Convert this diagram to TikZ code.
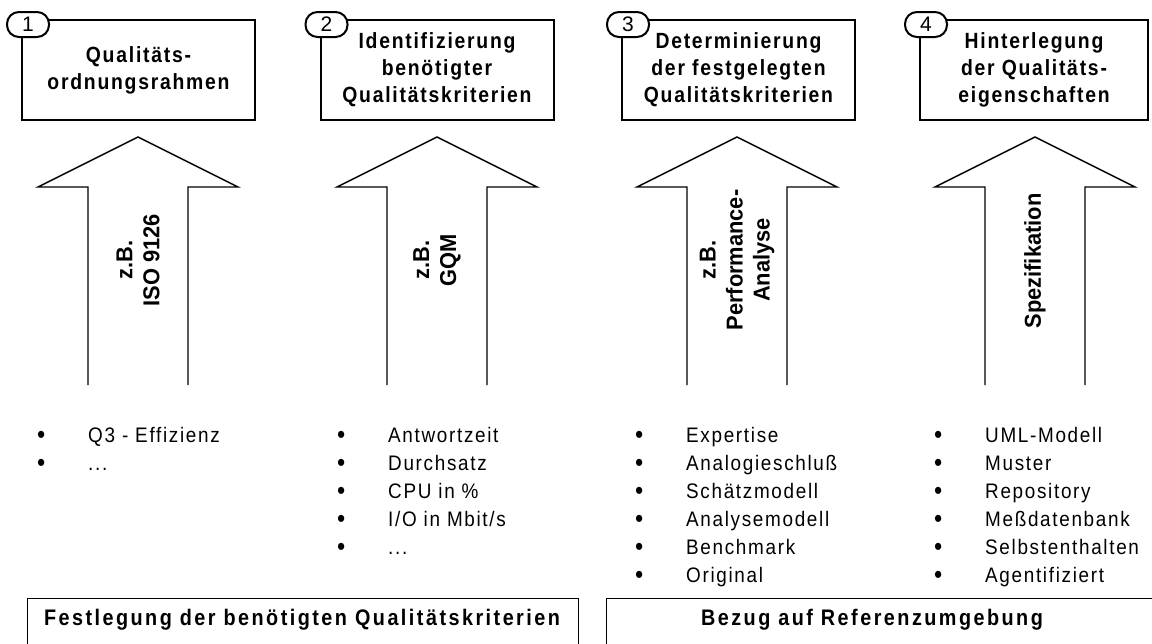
\documentclass[tikz,border=0pt]{standalone}
\usepackage{fontspec}
\setmainfont{Liberation Sans}
\newfontfamily\spacedfont[LetterSpace=8,FakeStretch=0.88]{Liberation Sans}
\newfontfamily\widefont[LetterSpace=11,FakeStretch=0.88]{Liberation Sans}
\newfontfamily\listfont[LetterSpace=8,FakeStretch=0.9]{Liberation Sans}
\newfontfamily\arrowfont[FakeStretch=0.95]{Liberation Sans}
\usetikzlibrary{calc}
\newcommand{\etcdots}{...}
\newcommand{\bul}{\makebox[0pt][r]{\raisebox{-1pt}{\fontsize{26}{26}\selectfont\textbullet}\hspace{43pt}}}

\begin{document}
\begin{tikzpicture}[x=1pt,y=-1pt,
  titlebox/.style={draw, line width=2pt, minimum width=233pt, minimum height=100pt,
    align=center, inner sep=0pt, font=\spacedfont\bfseries\fontsize{22}{27}\selectfont},
  numtag/.style={draw, line width=2pt, fill=white, rounded corners=12pt,
    minimum width=42pt, minimum height=25pt, inner sep=0pt, font=\fontsize{21}{21}\selectfont},
  arrowtext/.style={rotate=90, align=center, inner sep=0pt,
    font=\arrowfont\bfseries\fontsize{23}{27}\selectfont},
  item/.style={anchor=west, inner sep=0pt, text height=15.2pt, text depth=0pt,
    font=\listfont\fontsize{21}{28}\selectfont},
  basebox/.style={draw, line width=1pt},
  basetext/.style={inner sep=0pt, font=\widefont\bfseries\fontsize{22.5}{22}\selectfont},
  bigarrow/.style={draw, line width=1.4pt, line join=miter}
]
\useasboundingbox (0,0) rectangle (1152,643);

% step boxes along the top
\node[titlebox] (t1) at (138.5,70) {Qualitäts-\\ordnungsrahmen};
\node[titlebox] (t2) at (437,70) {Identifizierung\\benötigter\\Qualitätskriterien};
\node[titlebox] (t3) at (738.5,70) {Determinierung\\der festgelegten\\Qualitätskriterien};
\node[titlebox, minimum width=228pt] (t4) at (1034,70) {Hinterlegung\\der Qualitäts-\\eigenschaften};

% numbered tags on the upper left corners
\foreach \k in {1,2,3,4}
  \node[numtag] (n\k) at ($(t\k.north west)+(7,5.5)$) {\k};

% upward block arrows with their vertical captions
\foreach \cx/\k in {138/1,437/2,737/3,1035/4} {
  \coordinate (foot\k) at (\cx,385);
  \draw[bigarrow] ($(foot\k)+(-50,0)$) -- ++(0,-198) -- ++(-50,0)
     -- ($(foot\k)+(0,-248)$) -- ($(foot\k)+(100,-198)$) -- ++(-50,0) -- ($(foot\k)+(50,0)$);
}
\node[arrowtext] (a1) at (138,260) {z.B.\\ISO 9126};
\node[arrowtext] (a2) at (437,260) {z.B.\\GQM};
\node[arrowtext] (a3) at (737,260) {z.B.\\Performance-\\Analyse};
\node[arrowtext] (a4) at (1035,261) {Spezifikation};

% bullet lists
\foreach \t [count=\i from 0] in {Q3 - Effizienz, \etcdots}
  \node[item] (la\i) at (88,435+28*\i) {\bul\t};
\foreach \t [count=\i from 0] in {Antwortzeit, Durchsatz, CPU in \%, I/O in Mbit/s, \etcdots}
  \node[item] (lb\i) at (388,435+28*\i) {\bul\t};
\foreach \t [count=\i from 0] in {Expertise, Analogieschluß, Schätzmodell, Analysemodell, Benchmark, Original}
  \node[item] (lc\i) at (686,435+28*\i) {\bul\t};
\foreach \t [count=\i from 0] in {UML-Modell, Muster, Repository, Meßdatenbank, Selbstenthalten, Agentifiziert}
  \node[item] (ld\i) at (985,435+28*\i) {\bul\t};

% summary boxes at the bottom
\draw[basebox] (27,660) -- (27,598) -- (578,598) -- (578,660);
\draw[basebox] (606,660) -- (606,598) -- (1165,598);
\node[basetext] (b1) at (302,620) {Festlegung der benötigten Qualitätskriterien};
\node[basetext] (b2) at (872,620) {Bezug auf Referenzumgebung};
\end{tikzpicture}
\end{document}
